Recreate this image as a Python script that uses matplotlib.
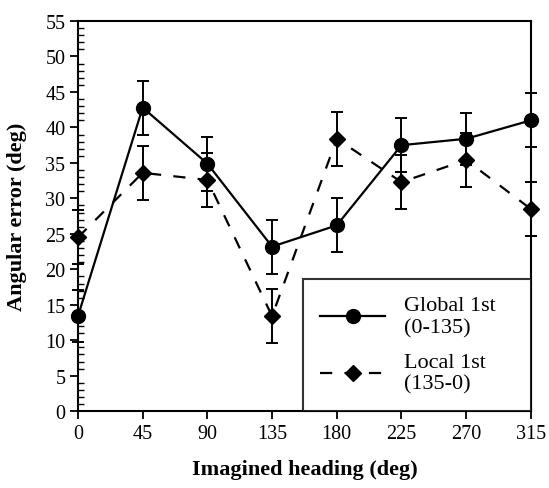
import numpy as np
import matplotlib
matplotlib.use("Agg")
import matplotlib.pyplot as plt
from matplotlib.ticker import MultipleLocator

## Donnees

headings = [0, 45, 90, 135, 180, 225, 270, 315]

global_err = [13.4, 42.8, 34.9, 23.2, 26.2, 37.5, 38.4, 41.0]
global_sd = [3.7, 3.8, 3.8, 3.8, 3.8, 3.8, 3.7, 3.8]

local_err = [24.5, 33.6, 32.6, 13.4, 38.4, 32.3, 35.4, 28.5]
local_sd = [3.8, 3.8, 3.8, 3.8, 3.8, 3.8, 3.8, 3.8]

labels = ["Global 1st\n(0-135)", "Local 1st\n(135-0)"]

plt.rcParams['font.family'] = ['Liberation Serif', 'DejaVu Serif']

fig = plt.figure(figsize=(5.49, 4.89), dpi=100)
ax = fig.add_axes([0.142, 0.157, 0.825, 0.798])

ax.errorbar(headings, global_err, yerr=global_sd, color="black", linestyle="-",
            linewidth=1.6, marker="o", markersize=10, capsize=4, elinewidth=1.4,
            capthick=1.4, label=labels[0], clip_on=False, zorder=3)
ax.errorbar(headings, local_err, yerr=local_sd, color="black", linestyle=(0, (5.5, 5.5)),
            linewidth=1.6, marker="D", markersize=8, capsize=4, elinewidth=1.4,
            capthick=1.4, label=labels[1], clip_on=False, zorder=3)

ax.set_xlim(0, 315)
ax.set_ylim(0, 55)
ax.set_xticks(headings)
ax.yaxis.set_major_locator(MultipleLocator(5))
ax.yaxis.set_minor_locator(MultipleLocator(1))
ax.tick_params(axis="both", which="major", direction="out", length=6, width=1.3,
               labelsize=14.5, pad=3)
ax.tick_params(axis="y", which="minor", direction="in", length=4, width=1)
ax.tick_params(top=False, right=False)

for s in ax.spines.values():
    s.set_linewidth(1.5)

ax.set_xlabel("Imagined heading (deg)", fontsize=16, fontweight="bold", labelpad=12)
ax.set_ylabel("Angular error (deg)", fontsize=16, fontweight="bold")
ax.yaxis.set_label_coords(-0.112, 0.5)

# pas de barres d'erreur dans la legende
h, l = ax.get_legend_handles_labels()
h = [x[0] for x in h]
leg = ax.legend(h, l, loc="lower left", bbox_to_anchor=(0.497, 0, 0.503, 0.34),
                mode="expand", fontsize=16, frameon=True, fancybox=False,
                edgecolor="black", borderaxespad=0, handlelength=2.9,
                labelspacing=0.7, borderpad=0.78, handletextpad=0.85)
leg.get_frame().set_linewidth(1.5)

plt.savefig("out.png", dpi=100)
